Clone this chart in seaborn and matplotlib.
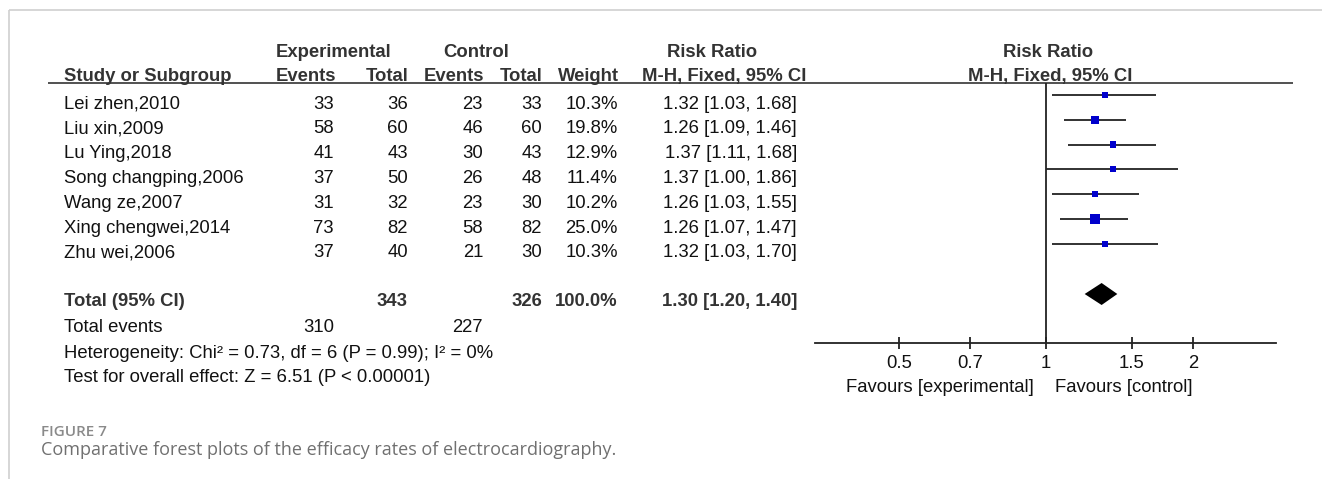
import numpy as np
import pandas as pd
import matplotlib
matplotlib.use("Agg")
import matplotlib.pyplot as plt
import seaborn as sns

# ---- data -------------------------------------------------------------
studies = ["Lei zhen,2010", "Liu xin,2009", "Lu Ying,2018", "Song changping,2006",
           "Wang ze,2007", "Xing chengwei,2014", "Zhu wei,2006"]
exp_events = [33, 58, 41, 37, 31, 73, 37]
exp_total = [36, 60, 43, 50, 32, 82, 40]
ctrl_events = [23, 46, 30, 26, 23, 58, 21]
ctrl_total = [33, 60, 43, 48, 30, 82, 30]
weights = [10.3, 19.8, 12.9, 11.4, 10.2, 25.0, 10.3]
rr = [1.32, 1.26, 1.37, 1.37, 1.26, 1.26, 1.32]
ci_low = [1.03, 1.09, 1.11, 1.00, 1.03, 1.07, 1.03]
ci_high = [1.68, 1.46, 1.68, 1.86, 1.55, 1.47, 1.70]
pooled = [1.30, 1.20, 1.40]
total_weight = 100.0
total_exp, total_ctrl = 343, 326
events_exp, events_ctrl = 310, 227
heterogeneity = "Heterogeneity: Chi² = 0.73, df = 6 (P = 0.99); I² = 0%"
overall = "Test for overall effect: Z = 6.51 (P < 0.00001)"
tick_values = [0.5, 0.7, 1, 1.5, 2]
tick_labels = ["0.5", "0.7", "1", "1.5", "2"]
favours = ["Favours [experimental]", "Favours [control]"]

df = pd.DataFrame({"study": studies, "rr": rr, "lo": ci_low, "hi": ci_high, "w": weights})

# ---- figure setup ----------------------------------------------------
sns.set_theme(style="white")
plt.rcParams["font.family"] = ["Liberation Sans", "DejaVu Sans"]

W, H, DPI = 1322, 479, 100
fig = plt.figure(figsize=(W / DPI, H / DPI), dpi=DPI)
fig.patch.set_facecolor("white")

# full-figure axes in pixel coordinates for the table
tab = fig.add_axes([0, 0, 1, 1])
tab.set_xlim(0, W)
tab.set_ylim(H, 0)
tab.axis("off")

FS = 13.3
BODY = "#111111"
HEAD = "#333333"

# panel frame
tab.plot([9, W], [10, 10], color="#cfcfcf", lw=1.2, solid_capstyle="butt")
tab.plot([9, 9], [10, H], color="#cfcfcf", lw=1.2, solid_capstyle="butt")

# header
hb1, hb2 = 56.5, 81
tab.text(334, hb1, "Experimental", ha="center", va="baseline", fontsize=FS, fontweight="bold", color=HEAD)
tab.text(476, hb1, "Control", ha="center", va="baseline", fontsize=FS, fontweight="bold", color=HEAD)
tab.text(712, hb1, "Risk Ratio", ha="center", va="baseline", fontsize=FS, fontweight="bold", color=HEAD)
tab.text(1048, hb1, "Risk Ratio", ha="center", va="baseline", fontsize=FS, fontweight="bold", color=HEAD)

tab.text(64, hb2, "Study or Subgroup", ha="left", va="baseline", fontsize=FS, fontweight="bold", color=HEAD)
for x, lab in [(336, "Events"), (408, "Total"), (484, "Events"), (542, "Total"), (619, "Weight")]:
    tab.text(x, hb2, lab, ha="right", va="baseline", fontsize=FS, fontweight="bold", color=HEAD)
tab.text(724, hb2, "M-H, Fixed, 95% CI", ha="center", va="baseline", fontsize=FS, fontweight="bold", color=HEAD)
tab.text(1050, hb2, "M-H, Fixed, 95% CI", ha="center", va="baseline", fontsize=FS, fontweight="bold", color=HEAD)
tab.plot([48, 1293], [83, 83], color="#333333", lw=1.2, solid_capstyle="butt")

# study rows
row0, step = 95.0, 24.8
text_off = 13.5
for i, s in enumerate(studies):
    yb = row0 + step * i + text_off
    tab.text(64, yb, s, ha="left", va="baseline", fontsize=FS, color=BODY)
    tab.text(334, yb, str(exp_events[i]), ha="right", va="baseline", fontsize=FS, color=BODY)
    tab.text(408, yb, str(exp_total[i]), ha="right", va="baseline", fontsize=FS, color=BODY)
    tab.text(483, yb, str(ctrl_events[i]), ha="right", va="baseline", fontsize=FS, color=BODY)
    tab.text(542, yb, str(ctrl_total[i]), ha="right", va="baseline", fontsize=FS, color=BODY)
    tab.text(618, yb, f"{weights[i]:.1f}%", ha="right", va="baseline", fontsize=FS, color=BODY)
    tab.text(797, yb, f"{rr[i]:.2f} [{ci_low[i]:.2f}, {ci_high[i]:.2f}]", ha="right",
             va="baseline", fontsize=FS, color=BODY)

# totals
yt = 305.5
tab.text(64, yt, "Total (95% CI)", ha="left", va="baseline", fontsize=FS, fontweight="bold", color=HEAD)
tab.text(408, yt, str(total_exp), ha="right", va="baseline", fontsize=FS, fontweight="bold", color=HEAD)
tab.text(542, yt, str(total_ctrl), ha="right", va="baseline", fontsize=FS, fontweight="bold", color=HEAD)
tab.text(618, yt, f"{total_weight:.1f}%", ha="right", va="baseline", fontsize=FS, fontweight="bold", color=HEAD)
tab.text(797, yt, f"{pooled[0]:.2f} [{pooled[1]:.2f}, {pooled[2]:.2f}]", ha="right", va="baseline",
         fontsize=FS, fontweight="bold", color=HEAD)

ye = 331.5
tab.text(64, ye, "Total events", ha="left", va="baseline", fontsize=FS, color=BODY)
tab.text(334, ye, str(events_exp), ha="right", va="baseline", fontsize=FS, color=BODY)
tab.text(483, ye, str(events_ctrl), ha="right", va="baseline", fontsize=FS, color=BODY)
tab.text(64, 357.5, heterogeneity, ha="left", va="baseline", fontsize=FS, color=BODY)
tab.text(64, 382.5, overall, ha="left", va="baseline", fontsize=FS, color=BODY)

# favours labels
tab.text(1034, 392, favours[0], ha="right", va="baseline", fontsize=FS, color=BODY)
tab.text(1055, 392, favours[1], ha="left", va="baseline", fontsize=FS, color=BODY)

# caption
tab.text(41, 436, "FIGURE 7", ha="left", va="baseline", fontsize=11, color="#8a8a8a",
         family=["Open Sans", "DejaVu Sans"], fontweight="semibold")
tab.text(41, 455, "Comparative forest plots of the efficacy rates of electrocardiography.",
         ha="left", va="baseline", fontsize=13, color="#707070", family=["Open Sans", "DejaVu Sans"])

# ---- forest panel ------------------------------------------------------
x_left, x_right, x_one, px_per_log = 815, 1276, 1046, 212.0
y_top, y_axis = 83, 343
ax = fig.add_axes([x_left / W, 1 - y_axis / H, (x_right - x_left) / W, (y_axis - y_top) / H])
ax.set_facecolor("none")
ax.set_xscale("log")
ax.set_xlim(np.exp((x_left - x_one) / px_per_log), np.exp((x_right - x_one) / px_per_log))
ax.set_ylim(y_axis, y_top)

df["y"] = row0 + step * np.arange(len(df))
ax.hlines(df["y"], df["lo"], df["hi"], color="#222222", lw=1.3)
# marker area grows with study weight
side_px = 2.4 + 0.31 * df["w"]
df["area"] = (side_px * 72 / DPI) ** 2
sns.scatterplot(data=df, x="rr", y="y", size="area", sizes=(df["area"].min(), df["area"].max()),
                marker="s", color="#0000cc", edgecolor="#0000cc", linewidth=0, legend=False, ax=ax, zorder=3)

# pooled diamond
yd, hd = 294, 11
ax.fill([pooled[1], pooled[0], pooled[2], pooled[0]], [yd, yd - hd, yd, yd + hd], color="black", lw=0, zorder=3)

ax.axvline(1, color="#222222", lw=1.3)
for side in ["left", "right", "top"]:
    ax.spines[side].set_visible(False)
ax.spines["bottom"].set_color("#222222")
ax.spines["bottom"].set_linewidth(1.3)
ax.set_yticks([])
ax.set_xticks(tick_values)
ax.set_xticklabels(tick_labels)
ax.xaxis.set_minor_locator(matplotlib.ticker.NullLocator())
ax.tick_params(axis="x", direction="inout", length=8, width=1.3, color="#222222",
               labelsize=FS, labelcolor=BODY, pad=5, bottom=True)
ax.set_xlabel("")
ax.set_ylabel("")

fig.savefig("out.png", dpi=DPI, facecolor="white")
